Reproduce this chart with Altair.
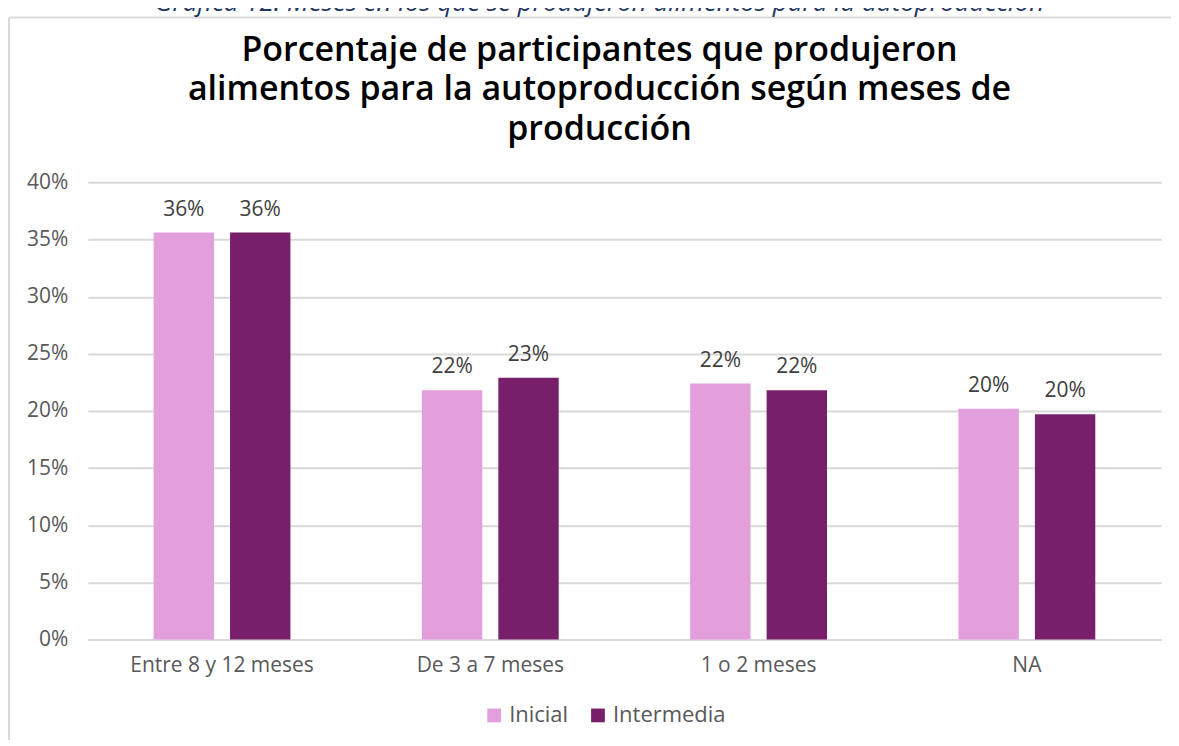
import altair as alt
import pandas as pd

categories = ["Entre 8 y 12 meses", "De 3 a 7 meses", "1 o 2 meses", "NA"]
series = ["Inicial", "Intermedia"]
inicial = [0.356, 0.218, 0.224, 0.202]
intermedia = [0.356, 0.229, 0.218, 0.197]
labels_inicial = ["36%", "22%", "22%", "20%"]
labels_intermedia = ["36%", "23%", "22%", "20%"]
colors = ["#E39FDB", "#771F6B"]
title_lines = ["Porcentaje de participantes que produjeron",
               "alimentos para la autoproducción según meses de",
               "producción"]
caption_text = "Gráfica 12. Meses en los que se produjeron alimentos para la autoproducción"

rows = []
for c, v, l in zip(categories, inicial, labels_inicial):
    rows.append({"cat": c, "serie": "Inicial", "val": v, "lab": l})
for c, v, l in zip(categories, intermedia, labels_intermedia):
    rows.append({"cat": c, "serie": "Intermedia", "val": v, "lab": l})
df = pd.DataFrame(rows)

W, H = 1075, 458
FONT = "Open Sans"

xenc = alt.X("cat:N", sort=categories, title=None,
             scale=alt.Scale(paddingInner=0.49, paddingOuter=0.245),
             axis=alt.Axis(labelAngle=0, labelFontSize=21, labelColor="#595959",
                           labelFont=FONT, labelPadding=15, ticks=False, labelLimit=400,
                           domainColor="#d9d9d9", domainWidth=2))
xoff = alt.XOffset("serie:N", sort=series, scale=alt.Scale(paddingInner=0.21))

base = alt.Chart(df)

bars = base.mark_bar().encode(
    x=xenc,
    xOffset=xoff,
    y=alt.Y("val:Q", title=None,
            scale=alt.Scale(domain=[0, 0.4]),
            axis=alt.Axis(format=".0%", values=[0, 0.05, 0.1, 0.15, 0.2, 0.25, 0.3, 0.35, 0.4],
                          labelFontSize=21, labelColor="#595959", labelFont=FONT,
                          labelPadding=20, ticks=False, domain=False,
                          gridColor="#d9d9d9", gridWidth=2)),
    color=alt.Color("serie:N", sort=series, title=None,
                    scale=alt.Scale(domain=series, range=colors),
                    legend=alt.Legend(orient="none", legendX=396, legendY=523,
                                      direction="horizontal",
                                      symbolType="square", symbolSize=190,
                                      symbolStrokeWidth=0,
                                      labelFontSize=22, labelColor="#595959",
                                      labelFont=FONT, columnPadding=18,
                                      labelOffset=4)),
)

text = base.mark_text(baseline="bottom", dy=-13, fontSize=21, color="#404040",
                      font=FONT).encode(
    x=alt.X("cat:N", sort=categories),
    xOffset=alt.XOffset("serie:N", sort=series),
    y="val:Q",
    text="lab:N",
)

one = pd.DataFrame({"k": [0]})
frame_top = alt.Chart(one).mark_rule(color="#d9d9d9", strokeWidth=2).encode(
    x=alt.value(-79), x2=alt.value(W + 40), y=alt.value(-165))
frame_left = alt.Chart(one).mark_rule(color="#d9d9d9", strokeWidth=2).encode(
    x=alt.value(-79), y=alt.value(-165), y2=alt.value(H + 140))

caption = alt.Chart(pd.DataFrame({"t": [caption_text]})).mark_text(
    fontSize=26, fontStyle="italic", color="#1F3864", font=FONT, baseline="bottom").encode(
    x=alt.value(W / 2 - 25), y=alt.value(-167), text="t:N")

title = alt.Chart(pd.DataFrame({"t": ["\n".join(title_lines)]})).mark_text(
    fontSize=34, fontWeight=600, color="#000000", font=FONT, baseline="top",
    lineBreak="\n", lineHeight=40).encode(
    x=alt.value(W / 2 - 25), y=alt.value(-149), text="t:N")

chart = alt.layer(bars, text, frame_top, frame_left, caption, title).properties(
    width=W, height=H,
    autosize=alt.AutoSizeParams(type="none"),
    padding={"left": 80, "top": 174, "right": 10, "bottom": 100},
).configure_view(stroke=None)

chart.save("out.html", embed_options={"renderer": "svg", "actions": False})
